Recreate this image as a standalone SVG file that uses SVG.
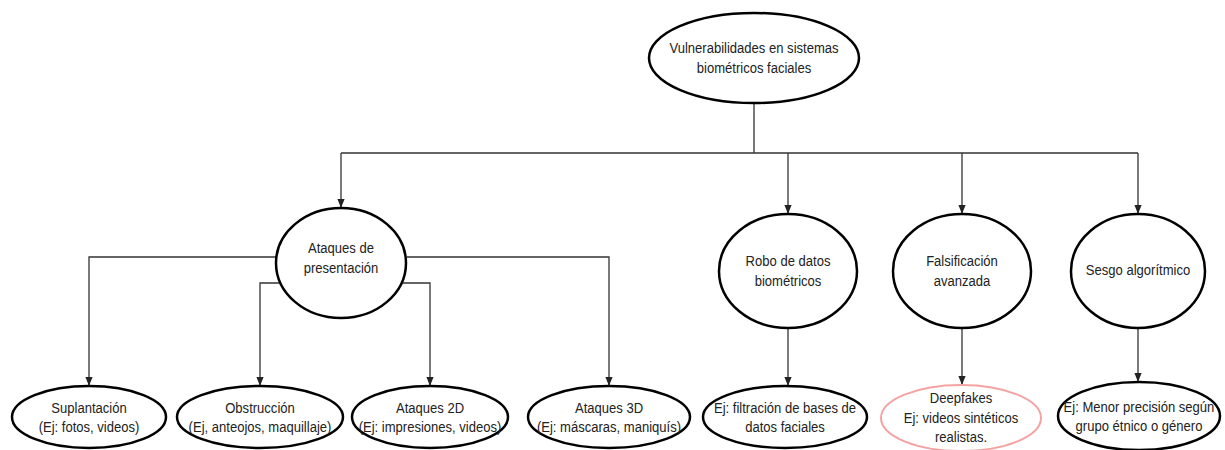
<svg xmlns="http://www.w3.org/2000/svg" width="1225" height="450" viewBox="0 0 1225 450">
<style>
.n{fill:#fff;stroke:#000;stroke-width:2.5}
.p{fill:#fff;stroke:#f4a3a3;stroke-width:2}
.c{fill:none;stroke:#333;stroke-width:1.3;marker-end:url(#arr)}
.l{fill:none;stroke:#333;stroke-width:1.3}
text{font-family:"Liberation Sans",Arial,sans-serif;font-size:15px;fill:#222;text-anchor:middle}
</style>
<defs>
<marker id="arr" viewBox="0 0 10 10" refX="10" refY="5" markerWidth="9" markerHeight="9" orient="auto" markerUnits="userSpaceOnUse">
<path d="M0,1 L10,5 L0,9 Z" fill="#222"/>
</marker>
</defs>
<g id="connectors">
<path class="l" d="M754 103 V153 M341 153 H1138"/>
<path class="c" d="M341 153 V208"/>
<path class="c" d="M788 153 V214"/>
<path class="c" d="M962 153 V214"/>
<path class="c" d="M1138 153 V214"/>
<path class="c" d="M276 257 H89 V386"/>
<path class="c" d="M279 283 H260 V386"/>
<path class="c" d="M403 283 H430 V386"/>
<path class="c" d="M407 257 H609 V386"/>
<path class="c" d="M788 328 V386"/>
<path class="c" d="M962 328 V385"/>
<path class="c" d="M1138 328 V382"/>
</g>
<g id="root">
<ellipse class="n" cx="754" cy="58" rx="105" ry="45"/>
<text transform="translate(754,0) scale(.87,1)"><tspan x="0" y="53">Vulnerabilidades en sistemas</tspan><tspan x="0" y="73">biométricos faciales</tspan></text>
</g>
<g id="presentacion">
<ellipse class="n" cx="341" cy="263" rx="65" ry="55"/>
<text transform="translate(341,0) scale(.87,1)"><tspan x="0" y="253">Ataques de</tspan><tspan x="0" y="273">presentación</tspan></text>
</g>
<g id="robo">
<ellipse class="n" cx="788" cy="271" rx="69" ry="57"/>
<text transform="translate(788,0) scale(.87,1)"><tspan x="0" y="266">Robo de datos</tspan><tspan x="0" y="286">biométricos</tspan></text>
</g>
<g id="falsificacion">
<ellipse class="n" cx="962" cy="271" rx="69" ry="57"/>
<text transform="translate(962,0) scale(.87,1)"><tspan x="0" y="266">Falsificación</tspan><tspan x="0" y="286">avanzada</tspan></text>
</g>
<g id="sesgo">
<ellipse class="n" cx="1138" cy="271" rx="67" ry="57"/>
<text transform="translate(1138,0) scale(.87,1)"><tspan x="0" y="275">Sesgo algorítmico</tspan></text>
</g>
<g id="suplantacion">
<ellipse class="n" cx="89" cy="417" rx="77" ry="31"/>
<text transform="translate(89,0) scale(.87,1)"><tspan x="0" y="413">Suplantación</tspan><tspan x="0" y="432">(Ej: fotos, videos)</tspan></text>
</g>
<g id="obstruccion">
<ellipse class="n" cx="260" cy="417" rx="83" ry="31"/>
<text transform="translate(260,0) scale(.87,1)"><tspan x="0" y="413">Obstrucción</tspan><tspan x="0" y="432">(Ej, anteojos, maquillaje)</tspan></text>
</g>
<g id="ataques2d">
<ellipse class="n" cx="430" cy="417" rx="78" ry="31"/>
<text transform="translate(430,0) scale(.87,1)"><tspan x="0" y="413">Ataques 2D</tspan><tspan x="0" y="432">(Ej: impresiones, videos)</tspan></text>
</g>
<g id="ataques3d">
<ellipse class="n" cx="609" cy="417" rx="81" ry="31"/>
<text transform="translate(609,0) scale(.87,1)"><tspan x="0" y="413">Ataques 3D</tspan><tspan x="0" y="432">(Ej: máscaras, maniquís)</tspan></text>
</g>
<g id="filtracion">
<ellipse class="n" cx="785" cy="417" rx="82" ry="31"/>
<text transform="translate(785,0) scale(.87,1)"><tspan x="0" y="413">Ej: filtración de bases de</tspan><tspan x="0" y="432">datos faciales</tspan></text>
</g>
<g id="deepfakes">
<ellipse class="p" cx="961" cy="418" rx="80" ry="33"/>
<text transform="translate(961,0) scale(.87,1)"><tspan x="0" y="403">Deepfakes</tspan><tspan x="0" y="423">Ej: videos sintéticos</tspan><tspan x="0" y="442">realistas.</tspan></text>
</g>
<g id="sesgo-ej">
<ellipse class="n" cx="1139" cy="416" rx="81" ry="34"/>
<text transform="translate(1139,0) scale(.87,1)"><tspan x="0" y="412">Ej: Menor precisión según</tspan><tspan x="0" y="431">grupo étnico o género</tspan></text>
</g>
</svg>
